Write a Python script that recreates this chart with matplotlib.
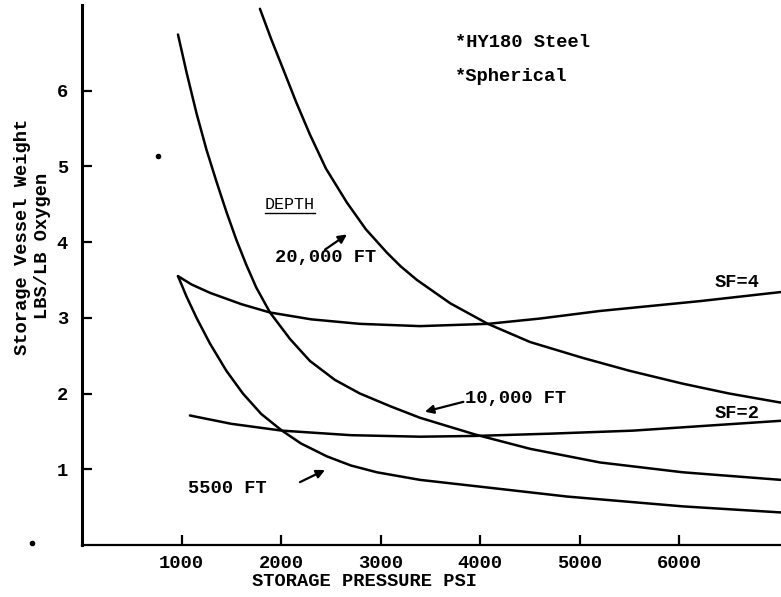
import numpy as np
import matplotlib
matplotlib.use("Agg")
from matplotlib import pyplot as plt
from matplotlib.lines import Line2D

# curves (pressure psi, lbs/lb oxygen)
depth_5500_x = [964, 1050, 1150, 1285, 1450, 1616, 1800, 2008, 2200, 2460, 2700, 2962, 3394, 4000, 4870, 6034, 7018]
depth_5500_y = [3.55, 3.28, 3.00, 2.66, 2.30, 2.00, 1.73, 1.51, 1.34, 1.17, 1.05, 0.96, 0.86, 0.77, 0.64, 0.51, 0.43]

depth_10000_x = [964, 1050, 1150, 1250, 1350, 1450, 1550, 1650, 1750, 1888, 2089, 2289, 2540, 2791, 3100, 3394, 3946, 4500, 5201, 6034, 7018]
depth_10000_y = [6.74, 6.24, 5.70, 5.22, 4.80, 4.40, 4.03, 3.70, 3.40, 3.07, 2.72, 2.43, 2.18, 2.00, 1.83, 1.68, 1.46, 1.27, 1.09, 0.96, 0.86]

depth_20000_x = [1787, 1900, 2018, 2150, 2289, 2450, 2661, 2850, 3062, 3200, 3363, 3700, 4076, 4500, 5030, 5500, 6034, 6500, 7018]
depth_20000_y = [7.08, 6.68, 6.29, 5.85, 5.42, 4.97, 4.52, 4.17, 3.86, 3.68, 3.50, 3.19, 2.92, 2.68, 2.47, 2.30, 2.13, 2.00, 1.88]

sf4_x = [964, 1100, 1285, 1600, 1888, 2300, 2791, 3394, 4076, 4600, 5201, 6205, 7018]
sf4_y = [3.55, 3.44, 3.33, 3.18, 3.07, 2.98, 2.92, 2.89, 2.92, 2.99, 3.09, 3.22, 3.34]

sf2_x = [1084, 1500, 2008, 2700, 3394, 3946, 4700, 5532, 7018]
sf2_y = [1.71, 1.60, 1.51, 1.45, 1.43, 1.44, 1.47, 1.51, 1.64]

x_ticks = [1000, 2000, 3000, 4000, 5000, 6000]
y_ticks = [1, 2, 3, 4, 5, 6]

# specks on the scan
specks_x = [763, -500]
specks_y = [5.13, 0.03]

FONT = "Liberation Mono"
FS = 13.5

fig = plt.figure(figsize=(7.81, 5.97), dpi=100)
ax = fig.add_axes([82 / 781, 52 / 597, 699 / 781, 540 / 597])

for xs, ys in [(depth_5500_x, depth_5500_y), (depth_10000_x, depth_10000_y),
               (depth_20000_x, depth_20000_y), (sf4_x, sf4_y), (sf2_x, sf2_y)]:
    ax.plot(xs, ys, color="black", lw=1.8, solid_capstyle="round", solid_joinstyle="round")

ax.plot(specks_x, specks_y, "o", color="black", ms=3, clip_on=False)

ax.set_xlim(0, 7020)
ax.set_ylim(0, 7.13)

ax.spines["top"].set_visible(False)
ax.spines["right"].set_visible(False)
ax.spines["left"].set_linewidth(2.2)
ax.spines["bottom"].set_linewidth(1.6)

ax.set_xticks(x_ticks)
ax.set_yticks(y_ticks)
ax.tick_params(axis="both", direction="in", length=7, width=1.6, colors="black")
ax.tick_params(axis="x", pad=7)
ax.tick_params(axis="y", pad=10)
for lbl in ax.get_xticklabels() + ax.get_yticklabels():
    lbl.set_fontfamily(FONT)
    lbl.set_fontsize(FS)
    lbl.set_fontweight("bold")

txt = dict(family=FONT, fontsize=FS, fontweight="bold", color="black")

fig.text(365 / 781, 1 - 581 / 597, "STORAGE PRESSURE PSI", ha="center", va="center", **txt)
fig.text(23 / 781, 1 - 237 / 597, "Storage Vessel Weight", rotation=90, ha="center", va="center", **txt)
fig.text(43 / 781, 1 - 246 / 597, "LBS/LB Oxygen", rotation=90, ha="center", va="center", **txt)

ax.text(3745, 6.63, "*HY180 Steel", ha="left", va="center", **txt)
ax.text(3745, 6.18, "*Spherical", ha="left", va="center", **txt)

depth = ax.text(2088, 4.49, "DEPTH", ha="center", va="center", family=FONT, fontsize=12, color="black")
ax.text(6355, 3.47, "SF=4", ha="left", va="center", **txt)
ax.text(6355, 1.74, "SF=2", ha="left", va="center", **txt)

ax.text(2450, 3.80, "20,000 FT", ha="center", va="center", **txt)
ax.text(3845, 1.94, "10,000 FT", ha="left", va="center", **txt)
ax.text(1064, 0.75, "5500 FT", ha="left", va="center", **txt)

arrow = dict(arrowstyle="-|>,head_length=0.5,head_width=0.25", color="black", lw=1.6, shrinkA=0, shrinkB=0)
ax.annotate("", xy=(2661, 4.10), xytext=(2440, 3.90), arrowprops=arrow)
ax.annotate("", xy=(3444, 1.76), xytext=(3830, 1.89), arrowprops=arrow)
ax.annotate("", xy=(2440, 0.99), xytext=(2189, 0.83), arrowprops=arrow)

# underline DEPTH
fig.canvas.draw()
bb = depth.get_window_extent()
fig.add_artist(Line2D([bb.x0, bb.x1], [bb.y0 - 1, bb.y0 - 1], transform=None, color="black", lw=1.0))

fig.savefig("out.png", dpi=100)
